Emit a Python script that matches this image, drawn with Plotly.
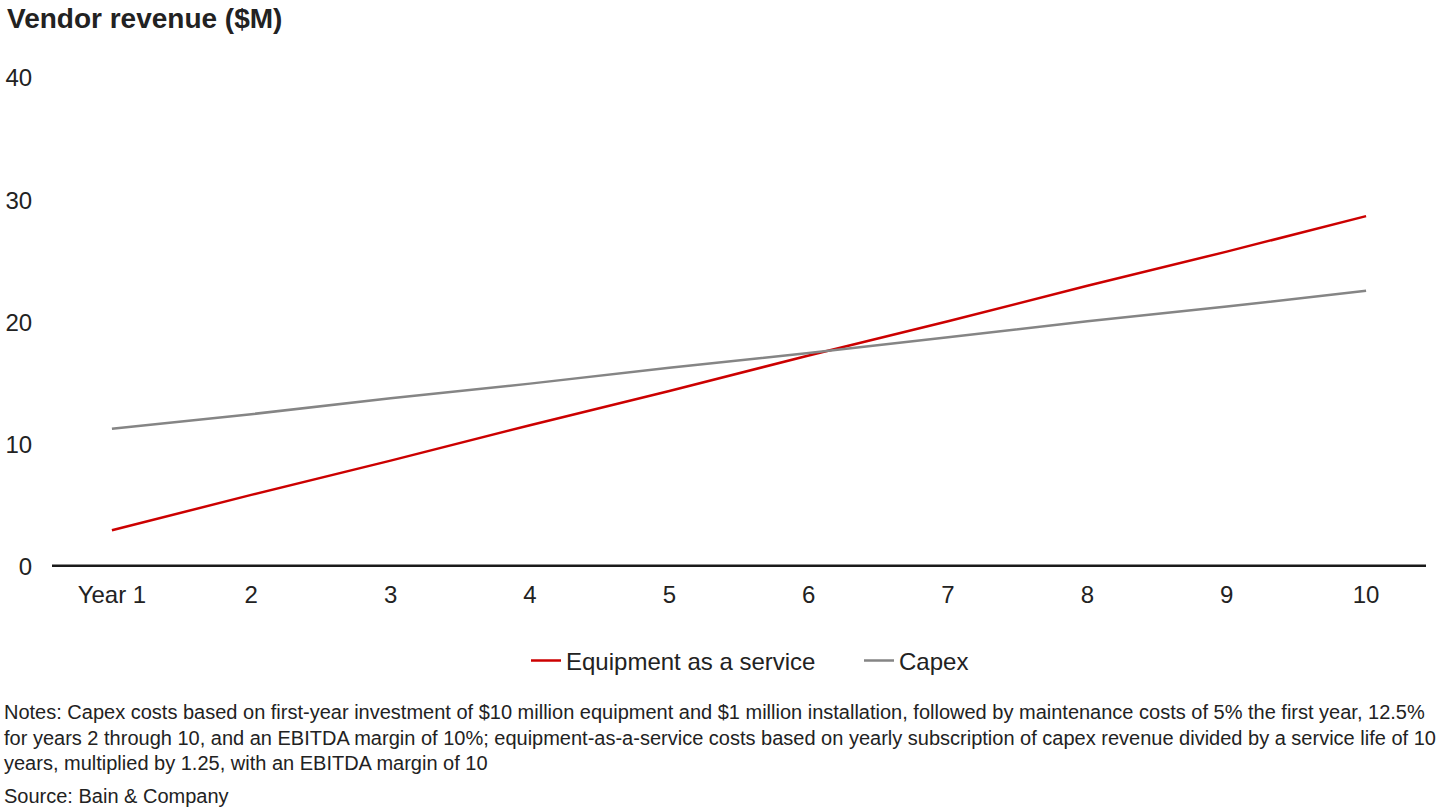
import plotly.graph_objects as go

years = ["Year 1", "2", "3", "4", "5", "6", "7", "8", "9", "10"]
eaas = [3.0, 5.9, 8.7, 11.6, 14.4, 17.3, 20.1, 23.0, 25.8, 28.7]
capex = [11.3, 12.5, 13.8, 15.0, 16.3, 17.5, 18.8, 20.1, 21.3, 22.6]
y_ticks = [0, 10, 20, 30, 40]

FONT = "Liberation Sans, Arial, sans-serif"
TXT = "#222222"

L, R, T, B = 52, 14, 78, 243
PW, PH = 1440 - L - R, 810 - T - B

fig = go.Figure()
fig.add_trace(go.Scatter(x=list(range(len(years))), y=eaas, mode="lines",
                         name="Equipment as a service",
                         line=dict(color="#cc0000", width=2.5)))
fig.add_trace(go.Scatter(x=list(range(len(years))), y=capex, mode="lines",
                         name="Capex",
                         line=dict(color="#858585", width=2.5)))

fig.add_shape(type="line", xref="paper", yref="y", x0=0, x1=1, y0=0, y1=0,
              line=dict(color="#1a1a1a", width=5))

fig.update_layout(
    width=1440, height=810,
    margin=dict(l=L, r=R, t=T, b=B, autoexpand=False),
    paper_bgcolor="white", plot_bgcolor="white",
    font=dict(family=FONT, size=24, color=TXT),
    showlegend=True,
    legend=dict(orientation="h", x=526 / 1440, xref="container", xanchor="left",
                y=1 - 661 / 810, yref="container", yanchor="middle",
                font=dict(size=24, color=TXT), itemwidth=30,
                entrywidth=288, entrywidthmode="pixels",
                traceorder="normal"),
    xaxis=dict(range=[-0.43, 9.43], tickmode="array",
               tickvals=list(range(len(years))), ticktext=years,
               showgrid=False, zeroline=False, showline=False, automargin=False,
               ticks="outside", ticklen=6, tickcolor="rgba(0,0,0,0)",
               tickfont=dict(size=24)),
    yaxis=dict(range=[0, 40], tickvals=y_ticks, showgrid=False, automargin=False,
               zeroline=False, showline=False, ticks="outside",
               ticklen=14, tickcolor="rgba(0,0,0,0)",
               tickfont=dict(size=24)),
)

fig.add_annotation(text="<b>Vendor revenue ($M)</b>", xref="paper", yref="paper",
                   x=(5 - L) / PW, y=(567 - 18) / PH, xanchor="left", yanchor="middle",
                   showarrow=False, font=dict(size=28, color=TXT))

notes = [
    "Notes: Capex costs based on first-year investment of $10 million equipment and $1 million installation, followed by maintenance costs of 5% the first year, 12.5%",
    "for years 2 through 10, and an EBITDA margin of 10%; equipment-as-a-service costs based on yearly subscription of capex revenue divided by a service life of 10",
    "years, multiplied by 1.25, with an EBITDA margin of 10",
    "Source: Bain & Company",
]
note_y = [712, 738, 763, 796]
for t, yy in zip(notes, note_y):
    fig.add_annotation(text=t, xref="paper", yref="paper",
                       x=(2 - L) / PW, y=(567 - yy) / PH, xanchor="left", yanchor="middle",
                       showarrow=False, font=dict(size=20, color=TXT))

fig.write_html("out.html", config={"displayModeBar": False},
               post_script="document.body.style.margin='0px';document.body.style.padding='0px';")
